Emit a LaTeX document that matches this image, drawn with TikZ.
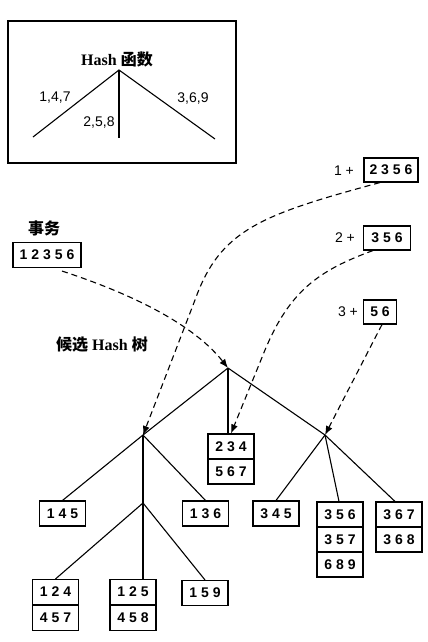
\documentclass[tikz,border=0pt]{standalone}
\usepackage{fontspec}
\setmainfont{Liberation Serif}
\newfontfamily\cjk{Noto Sans CJK SC}
\newfontfamily\numf[LetterSpace=28]{Liberation Sans}
\newfontfamily\labf{Liberation Sans}
\usetikzlibrary{arrows.meta,calc}
\begin{document}
\begin{tikzpicture}[x=1pt,y=-1pt,
  cell/.style={draw, line width=1.1pt, minimum height=25pt, inner sep=0pt,
    font=\numf\bfseries\fontsize{14}{16}\selectfont},
  w3/.style={cell, minimum width=46pt},
  edge/.style={line width=1.1pt},
  dasharrow/.style={line width=1.1pt, dash pattern=on 6pt off 4pt,
    -{Latex[length=9pt,width=7pt]}},
  lab/.style={font=\labf\fontsize{14}{16}\selectfont},
  title/.style={font=\bfseries\fontsize{16}{18}\selectfont}]
\useasboundingbox (0,0) rectangle (428,642);
% hash function box
\node[draw, line width=1.2pt, minimum width=228pt, minimum height=142pt, inner sep=0pt] (frame) at (122,92) {};
\node[title] (htitle) at (117,59) {Hash {\cjk 函数}};
\coordinate (apex) at (119,70);
\coordinate (hl) at (33,137);
\coordinate (hm) at (119,138);
\coordinate (hr) at (215,139);
\draw[edge] (hl) -- (apex) -- (hr);
\draw[edge] (apex) -- (hm);
\node[lab] (l147) at (55,98) {1,4,7};
\node[lab] (l258) at (99,123) {2,5,8};
\node[lab] (l369) at (193,99) {3,6,9};
% transaction
\node[title] (tx) at (44,228) {\cjk 事务};
\node[cell, minimum width=68pt] (b12356) at (47,255) {12356};
\node[lab] (p1) at (344,171) {1 +};
\node[cell, minimum width=54pt, minimum height=24pt] (b2356) at (391,170) {2356};
\node[lab] (p2) at (345,238) {2 +};
\node[cell, minimum width=47pt, minimum height=24pt] (b356) at (387,238) {356};
\node[lab] (p3) at (348,312) {3 +};
\node[cell, minimum width=33pt, minimum height=24pt] (b56) at (380,312) {56};
\node[title] (ctitle) at (102,345) {{\cjk 候选} Hash {\cjk 树}};
% tree
\coordinate (root) at (228,368);
\coordinate (L) at (143,435);
\coordinate (R) at (325,435);
\coordinate (M) at (143,503);
\node[w3] (b234) at (231,446.5) {234};
\node[w3] (b567) at (231,471.5) {567};
\node[w3] (b145) at (62.5,513.5) {145};
\node[w3] (b136) at (205.5,513.5) {136};
\node[w3] (b345) at (276,513.5) {345};
\node[w3] (b356t) at (340,514.5) {356};
\node[w3] (b357) at (340,539.5) {357};
\node[w3] (b689) at (340,564.5) {689};
\node[w3] (b367) at (399,514.5) {367};
\node[w3] (b368) at (399,539.5) {368};
\node[w3] (b124) at (55.5,592) {124};
\node[w3] (b457) at (55.5,618) {457};
\node[w3] (b125) at (133,592) {125};
\node[w3] (b458) at (133,618) {458};
\node[w3] (b159) at (205,593) {159};
\draw[edge] (root) -- (L);
\draw[edge] (root) -- (R);
\draw[edge] (root) -- (root |- b234.north);
\draw[edge] (L) -- (b145.north);
\draw[edge] (L) -- (b136.north);
\draw[edge] (L) -- (M);
\draw[edge] (M) -- (b124.north);
\draw[edge] (M) -- (M |- b125.north);
\draw[edge] (M) -- (b159.north);
\draw[edge] (R) -- (b345.north);
\draw[edge] (R) -- ($(b356t.north)+(-1,0)$);
\draw[edge] (R) -- ($(b367.north)+(-4,0)$);
% dashed arrows
\draw[dasharrow] ($(b12356.south)+(15,3)$) .. controls (120,290) and (190,320) .. (root);
\draw[dasharrow] ($(b2356.south)+(-11,0)$) .. controls (260,215) and (220,230) .. (195,300) -- (L);
\draw[dasharrow] ($(b356.south)+(-14,0)$) .. controls (320,270) and (290,290) .. (265,350) -- (b234.north);
\draw[dasharrow] ($(b56.south)+(2,0)$) -- (R);
\end{tikzpicture}
\end{document}
